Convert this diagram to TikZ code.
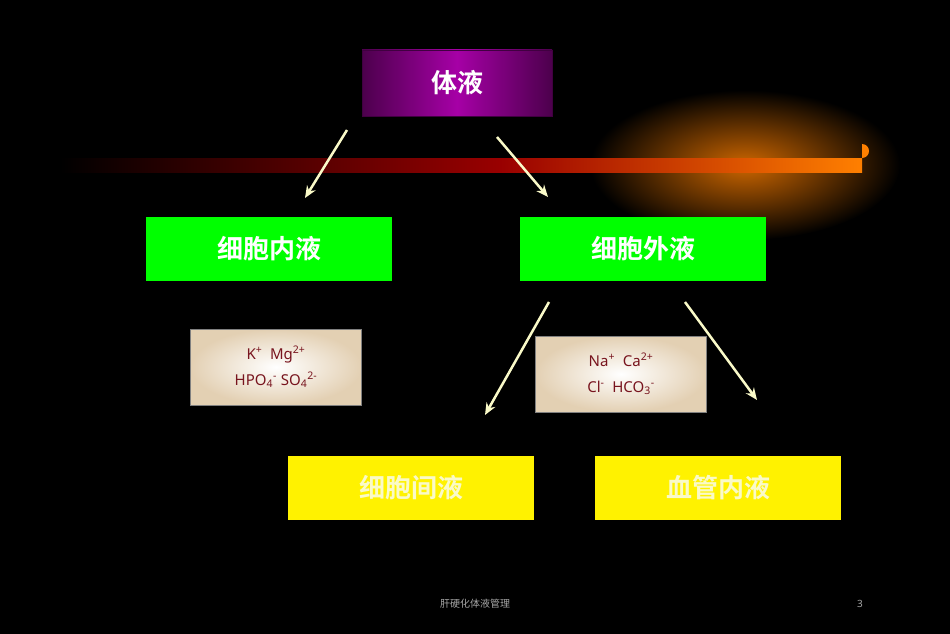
\documentclass[tikz,border=0pt]{standalone}
\usepackage{fontspec}
\newfontfamily\cjk{Noto Sans CJK SC}
\newfontfamily\cjkb{Noto Sans CJK SC Bold}
\setmainfont{Noto Sans}
\usetikzlibrary{arrows.meta}
\definecolor{ionred}{RGB}{120,20,30}
\definecolor{beige}{RGB}{236,228,208}
\definecolor{paleyel}{RGB}{250,250,200}
\tikzstyle{titleBox}=[minimum width = 190, minimum height = 66, inner sep = 0pt, left color = violet!60!black, right color = violet!60!black, middle color = violet!70!magenta, draw = violet!50!black, text = white, font = \cjkb\fontsize{26}{26}\selectfont]
\tikzstyle{greenBox}=[minimum width = 246, minimum height = 64, inner sep = 0pt, fill = green, text = white, font = \cjkb\fontsize{26}{26}\selectfont]
\tikzstyle{yellowBox}=[minimum width = 246, minimum height = 64, inner sep = 0pt, fill = yellow, text = paleyel, font = \cjkb\fontsize{26}{26}\selectfont]
\tikzstyle{ionBox}=[minimum width = 171, minimum height = 76, inner sep = 0pt, inner color = white, outer color = beige!80!brown, draw = gray, align = center, text = ionred, font = \fontsize{15}{26}\selectfont]
\tikzstyle{arrowLine}=[draw = paleyel, line width = 2.5pt, -{Stealth[length = 12pt, width = 10pt]}]
\begin{document}
\begin{tikzpicture}[x = 1pt, y = -1pt]
\fill[black] (0,0) rectangle (950,634);
\useasboundingbox (0,0) rectangle (950,634);
% comet
\shade[inner color = orange!80!black, outer color = black] (745,165) ellipse (155 and 75);
\shade[left color = black, right color = red!60!black] (60,158) rectangle (500,172);
\shade[left color = red!60!black, right color = orange] (500,158) rectangle (862,172);
\fill[orange] (862,158) arc (90:-90:7) -- cycle;
\node[titleBox] (body) at (457,83) {体液};
\node[greenBox] (intra) at (269,249) {细胞内液};
\node[greenBox] (extra) at (643,249) {细胞外液};
\node[ionBox] (ionA) at (276,367) {K\textsuperscript{+}\ \ Mg\textsuperscript{2+}\\HPO\textsubscript{4}\textsuperscript{-}\ SO\textsubscript{4}\textsuperscript{2-}};
\node[ionBox] (ionB) at (621,374) {Na\textsuperscript{+}\ \ Ca\textsuperscript{2+}\\Cl\textsuperscript{-}\ \ HCO\textsubscript{3}\textsuperscript{-}};
\node[yellowBox] (inter) at (411,488) {细胞间液};
\node[yellowBox] (plasma) at (718,488) {血管内液};
\coordinate (a1) at (347,130); \coordinate (b1) at (305,198);
\coordinate (a2) at (497,137); \coordinate (b2) at (548,197);
\coordinate (a3) at (549,302); \coordinate (b3) at (485,415);
\coordinate (a4) at (685,302); \coordinate (b4) at (757,400);
\draw[arrowLine] (a1) -- (b1);
\draw[arrowLine] (a2) -- (b2);
\draw[arrowLine] (a3) -- (b3);
\draw[arrowLine] (a4) -- (b4);
\node[text = gray!70, font = \cjk\fontsize{10}{10}\selectfont] (foot) at (475,604) {肝硬化体液管理};
\node[text = gray!70, font = \fontsize{10}{10}\selectfont] (page) at (860,604) {3};
\end{tikzpicture}
\end{document}
